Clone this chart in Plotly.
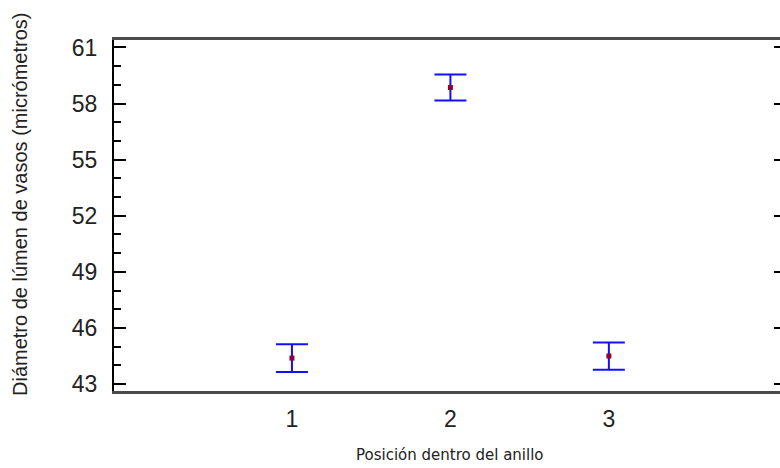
import plotly.graph_objects as go

# Means with interval half-widths for each ring position
positions = [1, 2, 3]
means = [44.39, 58.86, 44.50]
half_widths = [0.74, 0.70, 0.73]
y_ticks = [43, 46, 49, 52, 55, 58, 61]

W, H = 780, 468
L, R, T, B = 114, 0, 40, 77
pw, ph = W - L - R, H - T - B

fig = go.Figure()
fig.add_trace(go.Scatter(
    x=positions, y=means, mode="markers",
    marker=dict(symbol="square", size=5, color="#8f0039"),
    error_y=dict(type="data", array=half_widths, visible=True,
                 color="#1010ff", thickness=2, width=16),
    showlegend=False,
))
# invisible trace to hang the right-hand tick axis on
fig.add_trace(go.Scatter(x=[positions[0]], y=[means[0]], yaxis="y2",
                         mode="markers", marker=dict(opacity=0),
                         showlegend=False, hoverinfo="skip"))

yr = [42.63, 61.4]
tick_font = dict(family="Liberation Sans", size=23, color="#222")
fig.update_layout(
    width=W, height=H,
    margin=dict(l=L, r=R, t=T, b=B),
    paper_bgcolor="white", plot_bgcolor="white",
    xaxis=dict(range=[-0.123, 4.08], tickvals=positions,
               ticktext=[str(p) for p in positions],
               ticks="", showgrid=False, zeroline=False,
               showline=True, linecolor="#4a4a4a", linewidth=3, mirror=True,
               tickfont=tick_font, ticklabelstandoff=5),
    yaxis=dict(range=yr, tickvals=y_ticks, showgrid=False, zeroline=False,
               showline=True, linecolor="black", linewidth=2,
               ticks="inside", ticklen=12, tickwidth=2, tickcolor="black",
               minor=dict(dtick=1, tick0=43, ticks="inside", ticklen=7,
                          tickwidth=2, tickcolor="black", showgrid=False),
               tickfont=tick_font, ticklabelstandoff=10),
    yaxis2=dict(range=yr, overlaying="y", side="right", tickvals=y_ticks,
                showticklabels=False, showgrid=False, zeroline=False,
                showline=False, ticks="inside", ticklen=6, tickwidth=2,
                tickcolor="black"),
    annotations=[
        dict(text="Diámetro de lúmen de vasos (micrómetros)", textangle=-90,
             xref="paper", yref="paper", x=(20 - L) / pw, y=(H - B - 205) / ph,
             xanchor="center", yanchor="middle", showarrow=False,
             font=dict(family="Liberation Sans", size=20, color="#222")),
        dict(text="Posición dentro del anillo",
             xref="paper", yref="paper", x=(450 - L) / pw, y=(H - B - 455) / ph,
             xanchor="center", yanchor="middle", showarrow=False,
             font=dict(family="DejaVu Sans", size=15, color="#222")),
    ],
)

fig.write_html("out.html")
